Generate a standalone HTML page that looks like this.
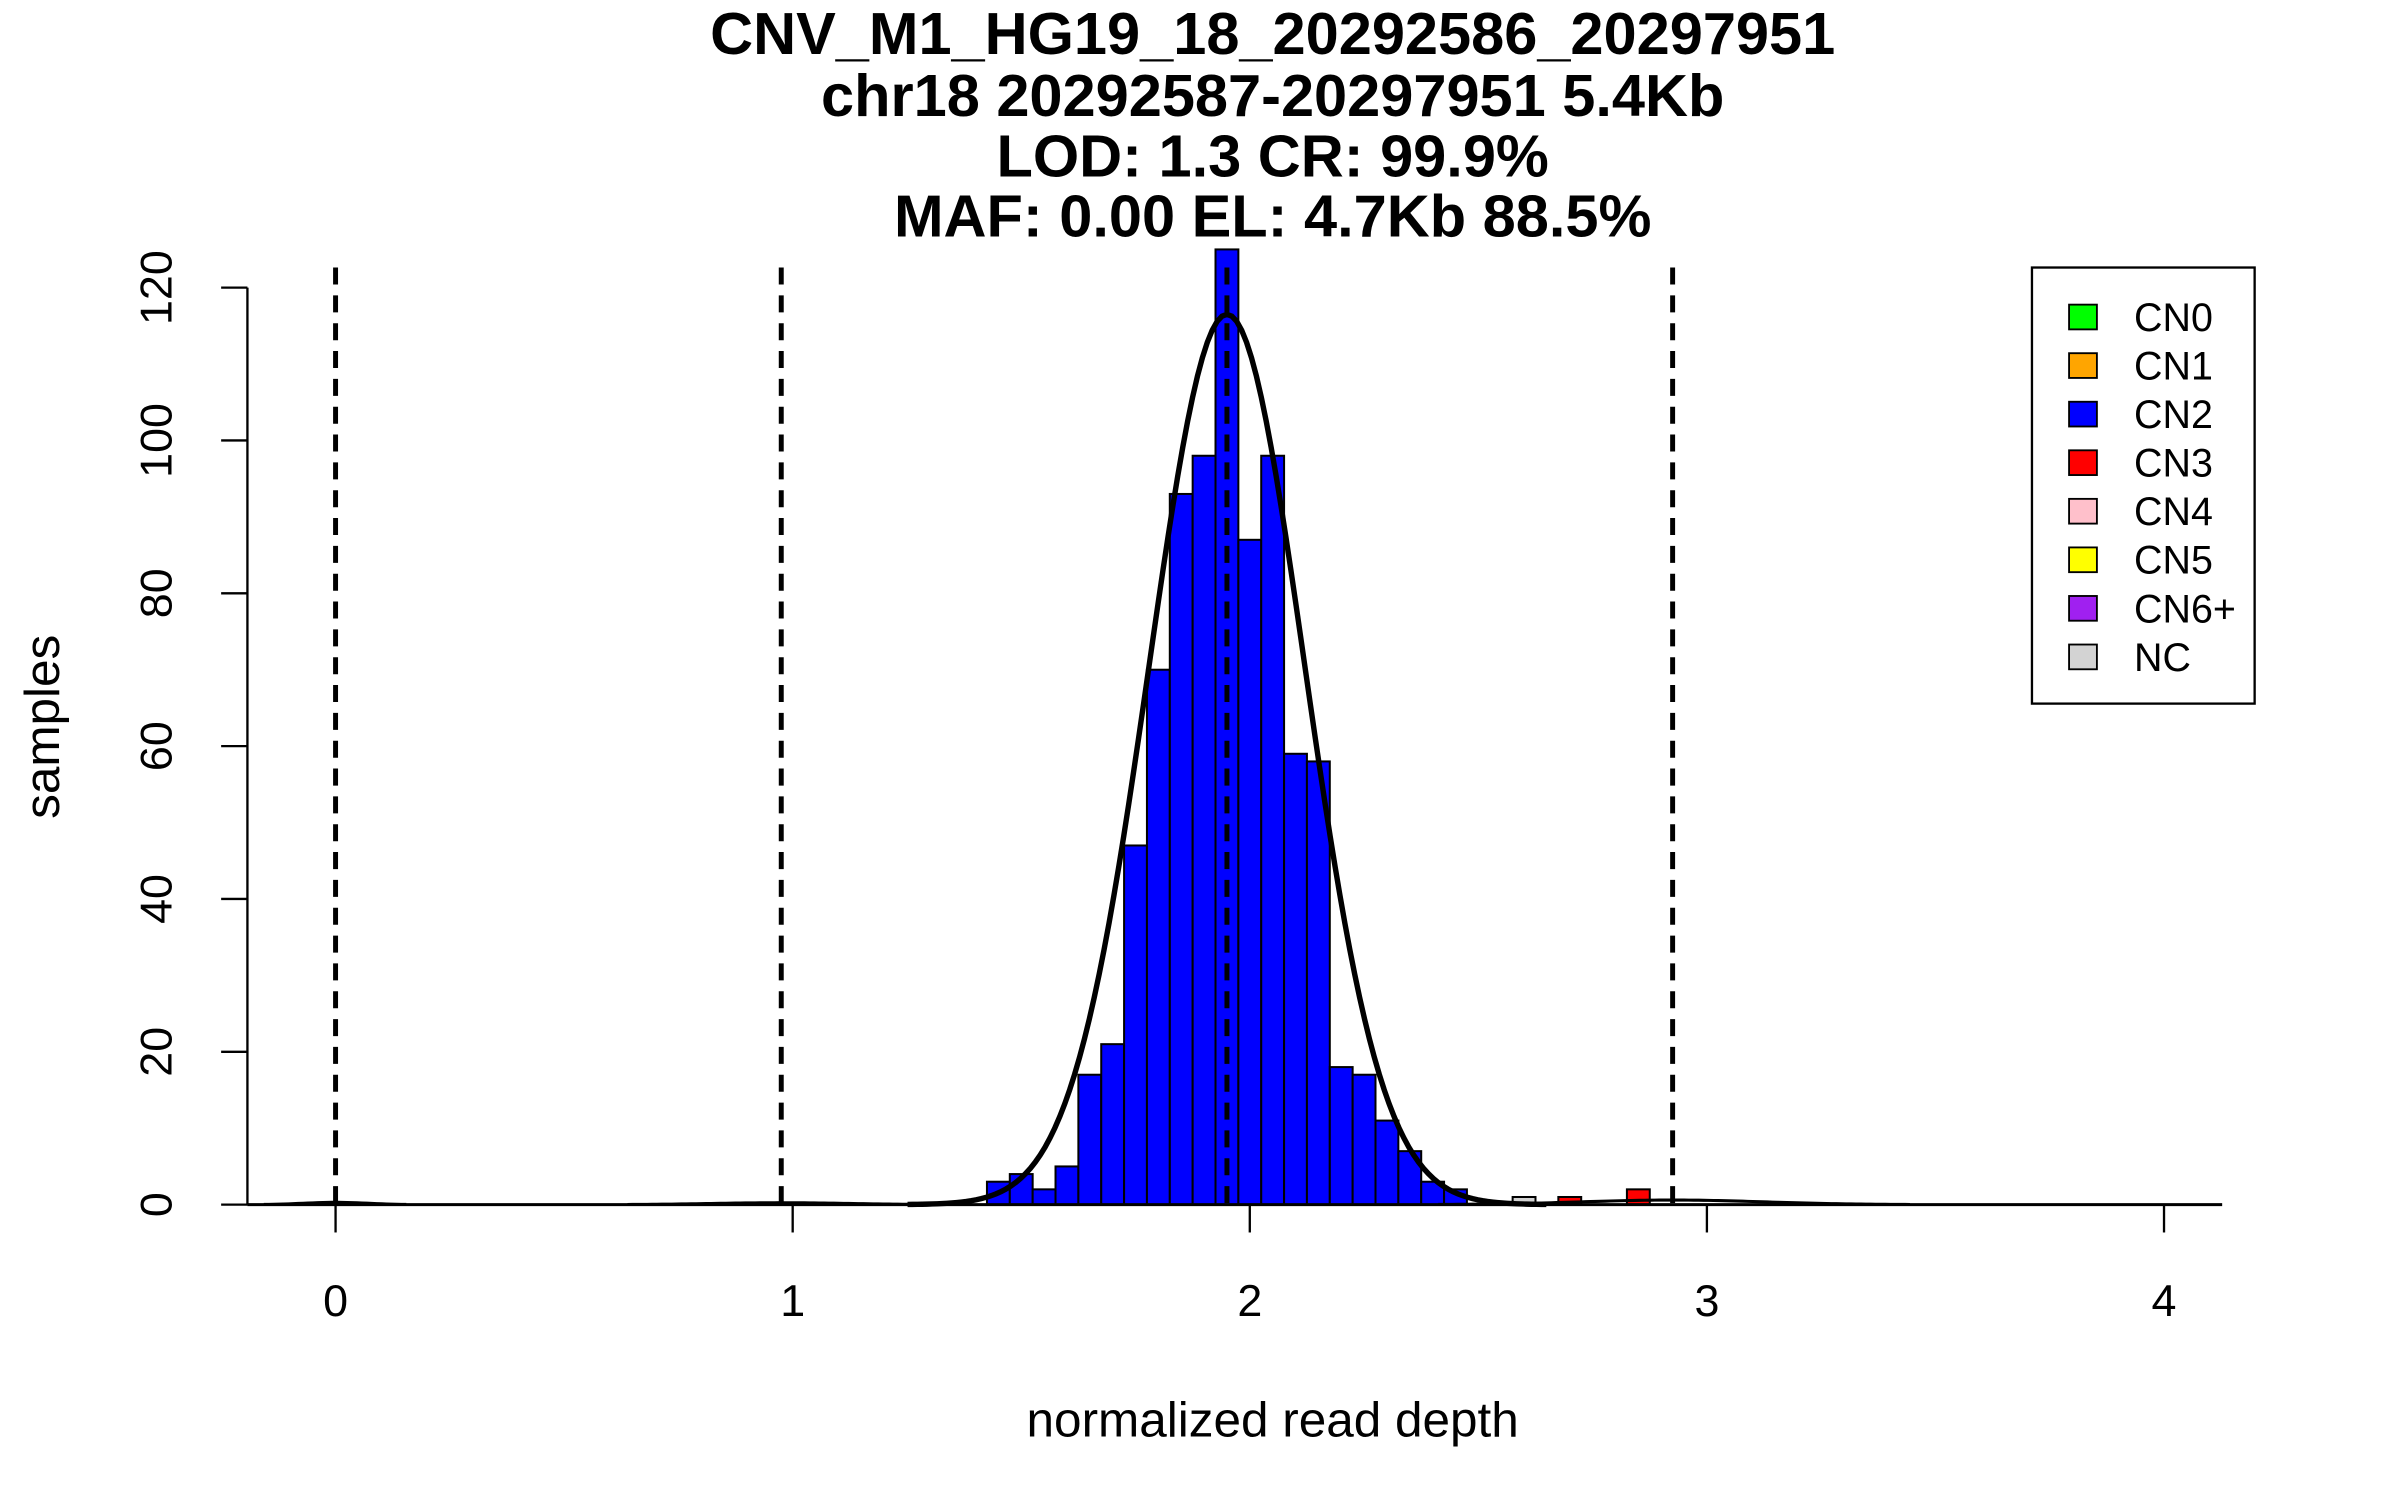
<!DOCTYPE html>
<html><head><meta charset="utf-8"><style>
html,body{margin:0;padding:0;background:#fff}
svg{display:block}
text{font-family:"Liberation Sans",sans-serif;fill:#000}
</style></head><body>
<svg id="chart" width="2400" height="1500" viewBox="0 0 1552 970" xmlns="http://www.w3.org/2000/svg">
<g font-weight="bold" font-size="38.5" text-anchor="middle">
<text x="823" y="35">CNV_M1_HG19_18_20292586_20297951</text>
<text x="823" y="75">chr18 20292587-20297951 5.4Kb</text>
<text x="823" y="114">LOD: 1.3 CR: 99.9%</text>
<text x="823" y="153">MAF: 0.00 EL: 4.7Kb 88.5%</text>
</g>
<g id="plot"></g>
<text x="823" y="929" font-size="32" text-anchor="middle">normalized read depth</text>
<text transform="translate(38,470) rotate(-90)" font-size="32" text-anchor="middle">samples</text>
<g>
<rect x="1314" y="173" width="144" height="282" fill="#fff" stroke="#000" stroke-width="1.5"/>
<g id="legend-items"></g>
</g>
</svg>
<script>
// data
const binStarts = [1.425,1.475,1.525,1.575,1.625,1.675,1.725,1.775,1.825,1.875,1.925,1.975,2.025,2.075,2.125,2.175,2.225,2.275,2.325,2.375,2.425];
const binCounts = [3,4,2,5,17,21,47,70,93,98,125,87,98,59,58,18,17,11,7,3,2];
const otherBinStarts = [2.575,2.675,2.825];
const otherBinCounts = [1,1,2];
const otherBinColors = ["#d3d3d3","#ff0000","#ff0000"];
const binWidth = 0.05;
const cnMeans = [0, 0.975, 1.95, 2.925];
const cnPeaks = [0.3, 0.25, 116.5, 0.6];
const cnSds = [0.07, 0.15, 0.17, 0.2];
const xTicks = [0,1,2,3,4];
const yTicks = [0,20,40,60,80,100,120];
const legendLabels = ["CN0","CN1","CN2","CN3","CN4","CN5","CN6+","NC"];
const legendColors = ["#00ff00","#ffa500","#0000ff","#ff0000","#ffc0cb","#ffff00","#a020f0","#d3d3d3"];

const NS="http://www.w3.org/2000/svg";
const X = v => 217 + v*295.6;
const Y = v => 779 - v*(593/120);
const plot = document.getElementById('plot');
function mk(tag, attrs, parent){const e=document.createElementNS(NS,tag);for(const k in attrs)e.setAttribute(k,attrs[k]);(parent||plot).appendChild(e);return e;}

binStarts.forEach((s,i)=>{
  const r=mk('rect',{x:X(s),y:Y(binCounts[i]),width:X(s+binWidth)-X(s),height:Y(0)-Y(binCounts[i]),fill:'#0000ff',stroke:'#000','stroke-width':1.3});
  
  
});
otherBinStarts.forEach((s,i)=>{
  const r=mk('rect',{x:X(s),y:Y(otherBinCounts[i]),width:X(s+binWidth)-X(s),height:Y(0)-Y(otherBinCounts[i]),fill:otherBinColors[i],stroke:'#000','stroke-width':1.3});
  
  
});
const ax=mk('line',{x1:160,y1:Y(0),x2:1437,y2:Y(0),stroke:'#000','stroke-width':2});


const ay=mk('line',{x1:160,y1:Y(0),x2:160,y2:Y(120),stroke:'#000','stroke-width':1.5});


xTicks.forEach(t=>{
  const l=mk('line',{x1:X(t),y1:779,x2:X(t),y2:797,stroke:'#000','stroke-width':1.5});
  
  
  const tx=mk('text',{x:X(t),y:851,'font-size':29,'text-anchor':'middle'});
  tx.textContent=t;
  
  
});
yTicks.forEach(t=>{
  const l=mk('line',{x1:143,y1:Y(t),x2:160,y2:Y(t),stroke:'#000','stroke-width':1.5});
  
  
  const tx=mk('text',{transform:`translate(111,${Y(t)}) rotate(-90)`,'font-size':29,'text-anchor':'middle'});
  tx.textContent=t;
  
  
});
cnMeans.forEach((m,i)=>{
  let d='';
  for(let k=0;k<=400;k++){
    const x=-0.2+k*(4.3/400);
    const v=cnPeaks[i]*Math.exp(-0.5*((x-m)/cnSds[i])**2);
    if(v<0.02) continue;
    d+=(d?'L':'M')+X(x).toFixed(2)+','+Y(v).toFixed(2);
  }
  const p=mk('path',{d:d,fill:'none',stroke:'#000','stroke-width':i===2?3.5:2});
  
  
});
cnMeans.forEach(m=>{
  const l=mk('line',{x1:X(m),y1:173,x2:X(m),y2:779,stroke:'#000','stroke-width':3.2,'stroke-dasharray':'11,7'});
  
  
});
const lg=document.getElementById('legend-items');
legendLabels.forEach((lab,i)=>{
  const y=205+i*31.4;
  const r=mk('rect',{x:1338,y:y-8,width:18,height:16,fill:legendColors[i],stroke:'#000','stroke-width':1.2},lg);
  
  
  const t=mk('text',{x:1380,y:y+9,'font-size':25.5},lg);
  t.textContent=lab;
  
  
});
</script>
</body></html>
